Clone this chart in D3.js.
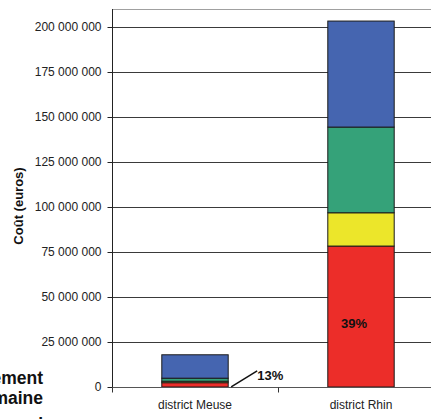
<!DOCTYPE html>
<html>
<head>
<meta charset="utf-8">
<script src="https://cdn.jsdelivr.net/npm/d3@7"></script>
<style>
  html, body { margin: 0; padding: 0; background: #fff; overflow: hidden; }
  svg { display: block; font-family: "Liberation Sans", Arial, sans-serif; }
</style>
</head>
<body>
<svg id="chart" width="431" height="419"></svg>
<script>
// Cost per district, stacked by component (euros)
const categories = ["district Meuse", "district Rhin"];
const layers = ["rouge", "jaune", "vert", "bleu"];
const layerColors = ["#ec2d29", "#ece62a", "#35a279", "#4565b0"];
const redValues = [2400000, 78300000];
const yellowValues = [800000, 18500000];
const greenValues = [1700000, 47600000];
const blueValues = [13000000, 58900000];
const yTicks = [0, 25000000, 50000000, 75000000, 100000000, 125000000, 150000000, 175000000, 200000000];
const yMax = 210000000;
const yTitle = "Coût (euros)";
const sideText = ["Financement", "domaine", "annuel"];

const rows = categories.map((c, i) => ({
  cat: c,
  rouge: redValues[i],
  jaune: yellowValues[i],
  vert: greenValues[i],
  bleu: blueValues[i]
}));

const svg = d3.select("#chart");
const plotLeft = 112, plotRight = 444, plotTop = 9, plotBottom = 387;

const x = d3.scaleBand().domain(categories).range([plotLeft, plotRight]).paddingInner(0).paddingOuter(0);
const y = d3.scaleLinear().domain([0, yMax]).range([plotBottom, plotTop]);
const color = d3.scaleOrdinal().domain(layers).range(layerColors);
const barW = x.bandwidth() * 0.4;

// plot frame top
svg.append("line")
  .attr("x1", plotLeft).attr("x2", plotRight).attr("y1", plotTop + 0.5).attr("y2", plotTop + 0.5)
  .attr("stroke", "#a0a0a0").attr("stroke-width", 1);

// horizontal gridlines
svg.append("g").selectAll("line")
  .data(yTicks.filter(d => d > 0))
  .join("line")
  .attr("x1", plotLeft).attr("x2", plotRight)
  .attr("y1", d => Math.round(y(d)) + 0.5).attr("y2", d => Math.round(y(d)) + 0.5)
  .attr("stroke", "#3a3a3a").attr("stroke-width", 1);

// stacked bars
const stack = d3.stack().keys(layers)(rows);
svg.append("g").selectAll("g")
  .data(stack)
  .join("g")
  .attr("fill", d => color(d.key))
  .selectAll("rect")
  .data(d => d)
  .join("rect")
  .attr("x", d => x(d.data.cat) + (x.bandwidth() - barW) / 2)
  .attr("y", d => y(d[1]))
  .attr("width", barW)
  .attr("height", d => y(d[0]) - y(d[1]))
  .attr("stroke", "#1a1a1a")
  .attr("stroke-width", 1);

// y axis
const yAxis = d3.axisLeft(y)
  .tickValues(yTicks)
  .tickSize(5)
  .tickPadding(6)
  .tickFormat(d => d3.format(",")(d).replace(/,/g, " "));
const gy = svg.append("g").attr("transform", `translate(${plotLeft + 0.5},0)`).call(yAxis);
gy.select(".domain").remove();
gy.selectAll(".tick line").attr("stroke", "#222");
gy.selectAll(".tick text").attr("font-size", 12).attr("fill", "#222")
  .attr("font-family", "'Liberation Sans', Arial, sans-serif");
svg.append("line")
  .attr("x1", plotLeft + 0.5).attr("x2", plotLeft + 0.5).attr("y1", plotTop).attr("y2", plotBottom + 5)
  .attr("stroke", "#222").attr("stroke-width", 1);

// x axis baseline with boundary ticks
const gx = svg.append("g").attr("transform", `translate(0,${plotBottom + 0.5})`);
gx.append("line").attr("x1", plotLeft).attr("x2", plotRight).attr("stroke", "#555").attr("stroke-width", 1);
gx.selectAll("line.bt")
  .data(categories.map(c => x(c)).concat([x(categories[categories.length - 1]) + x.bandwidth()]))
  .join("line").attr("class", "bt")
  .attr("x1", d => Math.round(d) + 0.5).attr("x2", d => Math.round(d) + 0.5)
  .attr("y1", 0).attr("y2", 5).attr("stroke", "#333");
gx.selectAll("text")
  .data(categories)
  .join("text")
  .attr("x", d => x(d) + x.bandwidth() / 2)
  .attr("y", 21)
  .attr("text-anchor", "middle")
  .attr("font-size", 12)
  .attr("fill", "#222")
  .text(d => d);

// y axis title
svg.append("text")
  .attr("transform", `translate(23,${(plotTop + plotBottom) / 2 + 8}) rotate(-90)`)
  .attr("text-anchor", "middle")
  .attr("font-size", 13)
  .attr("font-weight", "bold")
  .attr("fill", "#111")
  .text(yTitle);

// share of the red component in each bar
const pct = rows.map(r => Math.round(r.rouge / (r.rouge + r.jaune + r.vert + r.bleu) * 100) + "%");

// Rhin: label inside the red segment
const rh = rows[1];
svg.append("text")
  .attr("x", x(rh.cat) + x.bandwidth() / 2 - 7)
  .attr("y", y(rh.rouge / 2) + 11)
  .attr("text-anchor", "middle")
  .attr("font-size", 13)
  .attr("font-weight", "bold")
  .attr("fill", "#111")
  .text(pct[1]);

// Meuse: label outside with a leader line
const me = rows[0];
const mx = x(me.cat) + (x.bandwidth() + barW) / 2;
svg.append("line")
  .attr("x1", mx + 3).attr("y1", y(me.rouge / 2) + 2)
  .attr("x2", mx + 29).attr("y2", y(me.rouge / 2) - 14)
  .attr("stroke", "#111").attr("stroke-width", 1.5);
svg.append("text")
  .attr("x", mx + 29)
  .attr("y", y(me.rouge / 2) - 5)
  .attr("font-size", 13)
  .attr("font-weight", "bold")
  .attr("fill", "#111")
  .text(pct[0]);

// neighbouring caption, clipped by the left and bottom edges
svg.append("g").selectAll("text")
  .data(sideText)
  .join("text")
  .attr("x", 43)
  .attr("y", (d, i) => 384 + i * 20 + (i === 2 ? 6 : 0))
  .attr("text-anchor", "end")
  .attr("font-size", 17.5)
  .attr("font-weight", "bold")
  .attr("fill", "#111")
  .text(d => d);
</script>
</body>
</html>
